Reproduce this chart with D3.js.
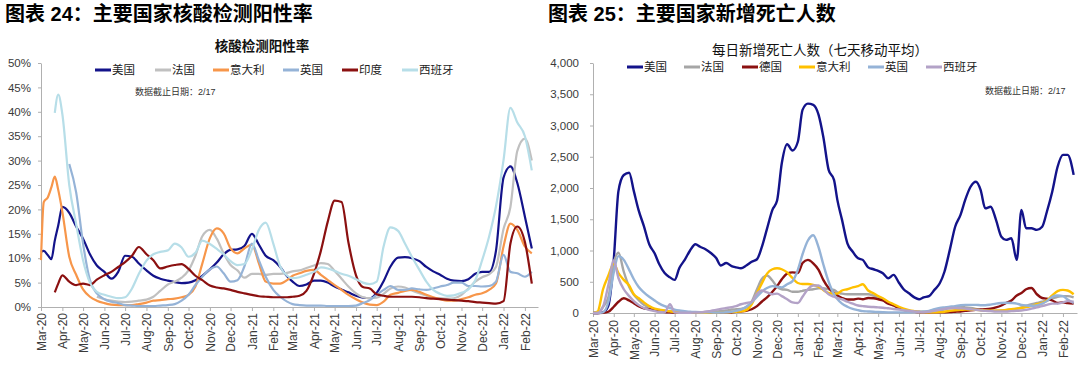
<!DOCTYPE html>
<html><head><meta charset="utf-8">
<script src="https://cdn.jsdelivr.net/npm/d3@7"></script>
<style>
body{margin:0;background:#fff;}
svg{display:block;font-family:"Liberation Sans","Noto Sans CJK SC",sans-serif;}
</style></head><body>
<svg id="c" width="1080" height="368"></svg>
<script>
// ---------------- Left chart: test positivity (%) ----------------
const leftDates = ["2020-03-01","2020-03-05","2020-03-11","2020-03-16","2020-03-21","2020-03-26","2020-04-01","2020-04-11","2020-04-21",
"2020-05-01","2020-05-11","2020-05-21","2020-06-01","2020-06-11","2020-06-21","2020-07-01","2020-07-11","2020-07-21","2020-08-01","2020-08-11","2020-08-21","2020-09-01","2020-09-11","2020-09-21","2020-10-01","2020-10-11","2020-10-21","2020-11-01","2020-11-11","2020-11-21","2020-12-01","2020-12-11","2020-12-21",
"2021-01-01","2021-01-11","2021-01-21","2021-02-01","2021-02-11","2021-02-21","2021-03-01","2021-03-11","2021-03-21","2021-04-01","2021-04-11","2021-04-21","2021-05-01","2021-05-11","2021-05-21","2021-06-01","2021-06-11","2021-06-21","2021-07-01","2021-07-11","2021-07-21","2021-08-01","2021-08-11","2021-08-21","2021-09-01","2021-09-11","2021-09-21","2021-10-01","2021-10-11","2021-10-21","2021-11-01","2021-11-11","2021-11-21","2021-12-01","2021-12-11","2021-12-21",
"2022-01-01","2022-01-11","2022-01-21","2022-02-01","2022-02-11"];
const leftNames = ["美国","法国","意大利","英国","印度","西班牙"];
const posUS = [11.3,11.5,10.6,9.8,13.6,16.7,20.5,19.3,16.5, 14.0,10.8,8.5, 7.2,5.8,7.2, 10.5,10.3,8.9, 7.5,6.4,5.8, 5.4,5.1,4.9, 5.0,5.5,6.4, 7.7,9.1,10.8, 11.7,11.8,12.5, 15.0,12.8,10.5, 9.6,8.2,6.3, 5.2,4.3,4.6, 5.4,5.4,5.0, 4.2,3.6,3.0, 2.3,1.9,1.8, 2.9,5.3,8.3, 10.1,10.2,10.0, 9.4,8.2,7.3, 6.6,5.8,5.4, 5.3,5.7,6.8, 7.2,7.2,11.5, 26.5,28.8,25.4, 18.5,12.0];
const posFR = [null,null,null,null,null,null,null,null,null, null,null,2.1, 1.6,1.3,1.1, 1.0,1.1,1.3, 1.5,2.1,3.3, 4.6,5.2,6.0, 7.5,10.5,14.5, 15.8,14.0,11.0, 8.6,7.5,6.0, 6.8,6.8,6.6, 6.8,6.8,7.0, 7.3,7.5,8.0, 8.5,9.0,8.8, 7.4,5.8,4.2, 2.8,2.0,1.8, 1.9,2.7,3.8, 4.2,4.0,3.4, 2.8,2.3,1.9, 1.8,1.7,1.8, 2.5,3.8,5.2, 6.1,6.7,8.2, 16.0,20.5,32.0, 34.5,30.0];
const posIT = [9.6,21.5,22.5,24.5,26.7,24.0,19.5,10.3,6.6, 3.6,2.1,1.3, 0.8,0.5,0.4, 0.4,0.4,0.6, 0.9,1.3,1.4, 1.6,1.7,2.0, 2.5,4.2,8.9, 14.1,16.1,15.1, 12.0,11.0,12.0, 12.8,9.0,5.2, 4.8,4.8,5.5, 6.4,6.9,7.4, 7.6,6.6,5.5, 4.5,3.5,2.5, 1.6,0.9,0.5, 0.4,1.1,2.5, 2.9,3.3,3.5, 3.1,2.5,2.0, 1.6,1.3,1.3, 1.6,2.0,2.5, 2.8,3.5,4.8, 12.4,17.1,15.8, 12.4,11.0];
const posUK = [null,null,null,null,null,null,null,29.3,23.5, 13.0,5.5,2.8, 1.6,1.1,0.8, 0.4,0.3,0.2, 0.2,0.2,0.3, 0.4,0.6,1.3, 2.5,4.5,6.2, 7.7,8.3,6.9, 5.2,5.5,8.3, 13.0,9.6,6.2, 3.5,2.1,1.1, 0.6,0.4,0.3, 0.3,0.3,0.2, 0.2,0.2,0.2, 0.3,0.8,1.4, 2.5,3.5,4.3, 3.5,3.5,3.8, 3.6,3.5,3.8, 4.2,4.5,5.0, 5.0,4.3,4.3, 4.2,4.3,5.2, 10.7,7.2,6.9, 6.2,7.2];
const posIN = [null,null,null,null,3.0,4.8,6.5,5.2,4.5, 4.8,4.5,5.6, 6.5,7.2,8.2, 9.2,10.5,12.3, 10.8,9.6,7.9, 8.3,8.6,8.8, 7.8,6.4,5.5, 4.4,4.0,3.8, 3.5,3.1,2.8, 2.5,2.2,2.1, 2.0,2.0,2.0, 2.1,2.3,3.3, 6.8,11.5,17.5, 21.8,21.5,13.2, 6.5,4.1,3.8, 2.6,2.3,2.1, 2.1,2.1,2.1, 2.0,1.8,1.7, 1.6,1.5,1.4, 1.3,1.2,1.0, 0.9,0.8,0.7, 1.2,13.0,16.5, 13.3,4.8];
const posES = [null,null,null,null,39.8,43.5,39.5,25.0,17.0, 9.6,5.0,3.1, 2.5,2.1,1.8, 2.0,3.8,6.8, 9.5,10.8,11.3, 11.6,13.0,12.2, 10.3,11.1,13.6, 12.9,11.9,10.8, 9.4,8.6,8.8, 11.8,15.8,17.3, 13.0,8.3,6.4, 5.9,6.1,6.6, 7.2,8.1,7.9, 7.4,6.8,6.4, 5.7,5.0,4.7, 5.2,12.4,16.3, 15.6,13.0,10.3, 7.6,5.2,3.5, 2.7,2.3,2.4, 2.9,3.6,5.5, 9.6,14.4,20.6, 30.1,40.8,37.8, 35.0,28.0];
const leftYTicks = [0,5,10,15,20,25,30,35,40,45,50];

// ---------------- Right chart: daily deaths (7-day avg) ----------------
const rightDates = ["2020-03-01","2020-03-08","2020-03-16","2020-03-24","2020-04-01","2020-04-08","2020-04-16","2020-04-24","2020-05-01","2020-05-08","2020-05-16","2020-05-24","2020-06-01","2020-06-08","2020-06-16","2020-06-24","2020-07-01","2020-07-08","2020-07-16","2020-07-24","2020-08-01","2020-08-08","2020-08-16","2020-08-24","2020-09-01","2020-09-08","2020-09-16","2020-09-24","2020-10-01","2020-10-08","2020-10-16","2020-10-24","2020-11-01","2020-11-08","2020-11-16","2020-11-24","2020-12-01","2020-12-08","2020-12-16","2020-12-24",
"2021-01-01","2021-01-08","2021-01-16","2021-01-24","2021-02-01","2021-02-08","2021-02-16","2021-02-24","2021-03-01","2021-03-08","2021-03-16","2021-03-24","2021-04-01","2021-04-08","2021-04-16","2021-04-24","2021-05-01","2021-05-08","2021-05-16","2021-05-24","2021-06-01","2021-06-08","2021-06-16","2021-06-24","2021-07-01","2021-07-08","2021-07-16","2021-07-24","2021-08-01","2021-08-08","2021-08-16","2021-08-24","2021-09-01","2021-09-08","2021-09-16","2021-09-24","2021-10-01","2021-10-08","2021-10-16","2021-10-24","2021-11-01","2021-11-08","2021-11-16","2021-11-24","2021-12-01","2021-12-08","2021-12-16","2021-12-24",
"2022-01-01","2022-01-08","2022-01-16","2022-01-24","2022-02-01","2022-02-08","2022-02-17"];
const rightNames = ["美国","法国","德国","意大利","英国","西班牙"];
const deathUS = [0,0,10,120, 850,1950,2208,2245, 1950,1650,1390,1100, 955,780,640,570, 530,720,850,1000, 1100,1060,1020,960, 880,760,800,750, 730,715,760,820, 860,1050,1350,1650, 1800,2395,2700,2600, 2740,3250,3350,3330, 3170,2820,2290,2130, 1810,1490,1115,980, 875,850,730,700, 675,635,555,610, 485,380,315,250, 220,250,270,370, 475,660,1010,1380, 1570,1810,2020,2100, 1970,1675,1700,1490, 1220,1170,1195,850, 1650,1355,1355,1330, 1380,1620,1940,2340, 2530,2530,2210];
const deathFR = [0,0,100,250, 795,965,660,420, 290,210,130,90, 60,50,35,30, 20,15,15,12, 12,12,15,18, 22,30,40,55, 60,65,90,180, 380,540,600,520, 420,380,370,340, 340,355,370,380, 395,395,380,370, 330,310,300,300, 300,300,300,280, 250,210,160,120, 80,50,30,20, 15,15,15,25, 40,60,80,90, 95,90,80,65, 50,40,35,35, 40,45,55,70, 90,115,140,160, 180,200,230,260, 270,270,250];
const deathDE = [0,0,2,20, 100,180,235,200, 155,110,75,60, 40,25,15,10, 8,6,5,5, 5,5,5,5, 5,5,6,8, 20,25,35,60, 110,180,250,340, 430,540,630,650, 640,800,850,795, 690,530,400,320, 280,240,215,215, 230,220,240,235, 220,200,150,120, 80,50,35,20, 15,10,10,10, 10,12,15,20, 25,35,45,50, 55,60,70,90, 120,160,200,280, 320,380,400,300, 240,230,200,160, 170,160,150];
const deathIT = [0,25,380,600, 790,640,530,440, 300,240,170,110, 70,55,40,25, 15,12,10,8, 6,5,5,6, 8,10,12,15, 20,25,45,140, 320,470,630,700, 715,700,650,560, 480,465,465,450, 420,370,320,310, 310,360,380,410, 430,460,360,315, 270,235,180,140, 100,70,45,30, 20,15,12,12, 15,20,35,45, 50,55,55,50, 45,40,38,38, 40,50,60,70, 80,95,110,140, 160,200,280,350, 370,360,300];
const deathUK = [0,0,10,180, 650,910,850,690, 540,420,330,260, 200,150,110,80, 55,40,30,20, 15,12,10,10, 8,8,12,20, 35,55,100,170, 260,340,400,430, 420,410,460,510, 690,940,1160,1245, 1050,780,500,300, 225,150,100,65, 45,30,25,20, 15,12,10,10, 10,10,12,15, 20,25,35,60, 80,90,100,110, 125,130,130,130, 125,125,135,150, 160,165,160,150, 130,120,115,120, 150,190,260,280, 270,215,160];
const deathES = [0,2,100,450, 840,560,380,270, 190,130,80,50, 30,15,10,140, 10,5,5,5, 8,10,20,35, 50,65,80,95, 110,140,160,180, 310,360,330,300, 310,270,220,170, 160,260,380,440, 440,380,300,260, 240,220,180,150, 120,110,100,95, 90,85,75,65, 55,45,35,25, 15,12,20,35, 50,65,75,80, 75,70,60,50, 40,35,30,25, 25,25,30,35, 40,50,70,90, 110,130,150,150, 170,190,180];
const rightYTicks = [0,500,1000,1500,2000,2500,3000,3500,4000];

const leftColors = ["#13138a","#c0c0c0","#f7964a","#95b3d7","#8b1010","#b7dee8"];
const rightColors = ["#13138a","#a6a6a6","#8b1010","#ffc000","#95b3d7","#b3a2c7"];

// ---------------- drawing ----------------
const svg = d3.select("#c");
const parse = d3.timeParse("%Y-%m-%d");
const TXT = "#3a3a3a";

function drawPanel(o){
  const g = svg.append("g");
  const dates = o.dates.map(parse);
  const x = d3.scaleTime().domain(o.xDomain.map(parse)).range(o.xRange);
  const y = d3.scaleLinear().domain(o.yDomain).range(o.yRange);
  // title
  g.append("text").attr("x",o.titleX).attr("y",21).text(o.title)
    .style("font-size","20px").style("font-weight","bold").attr("fill","#000");
  g.append("text").attr("x",o.subX).attr("y",o.subY).attr("text-anchor","middle").text(o.sub)
    .style("font-size","13.5px").style("font-weight",o.subBold?"bold":"normal").attr("fill","#111");
  // axes
  const ya = g.append("g").attr("transform",`translate(${o.xRange[0]},0)`)
    .call(d3.axisLeft(y).tickValues(o.yTicks).tickFormat(o.yFmt).tickSize(3).tickSizeOuter(0).tickPadding(o.yPad));
  ya.select(".domain").attr("stroke","#b0b0b0");
  ya.selectAll(".tick line").attr("stroke","#b0b0b0");
  ya.selectAll("text").style("font-size","11.5px").attr("fill",TXT);
  const xa = g.append("g").attr("transform",`translate(0,${o.yRange[0]})`)
    .call(d3.axisBottom(x).ticks(d3.timeMonth.every(1)).tickFormat(d3.timeFormat("%b-%y")).tickSize(4).tickSizeOuter(0));
  xa.select(".domain").attr("stroke","#b0b0b0");
  xa.selectAll(".tick line").attr("stroke","#b0b0b0");
  xa.selectAll("text").attr("transform","rotate(-90)").attr("text-anchor","end")
    .attr("x",-o.xLabGap).attr("y",0).attr("dy","0.35em").style("font-size","12px").attr("fill",TXT);
  // lines
  o.series.forEach((vals,i)=>{
    const pts = dates.map((d,k)=>({d, v:vals[k]}));
    const line = d3.line().defined(p=>p.v!=null).x(p=>x(p.d)).y(p=>y(p.v)).curve(d3.curveMonotoneX);
    g.append("path").datum(pts).attr("d",line).attr("fill","none")
      .attr("stroke",o.colors[i]).attr("stroke-width",o.lw).attr("stroke-linejoin","round");
  });
  // legend
  o.names.forEach((n,i)=>{
    const lx = o.legX[i];
    g.append("line").attr("x1",lx).attr("x2",lx+16).attr("y1",o.legY).attr("y2",o.legY)
      .attr("stroke",o.colors[i]).attr("stroke-width",3);
    g.append("text").attr("x",lx+17).attr("y",o.legY).attr("dy","0.36em").text(n)
      .style("font-size","11.5px").attr("fill","#222");
  });
  g.append("text").attr("x",o.noteX).attr("y",o.noteY).text("数据截止日期：2/17")
    .style("font-size","9px").attr("fill","#333");
}

drawPanel({
  title:"图表 24：主要国家核酸检测阳性率", titleX:5,
  sub:"核酸检测阳性率", subX:262, subY:51, subBold:true,
  dates:leftDates, xDomain:["2020-03-01","2022-02-20"], xRange:[41,538],
  yDomain:[0,50], yRange:[307,63], yTicks:leftYTicks, yFmt:d=>d+"%", yPad:7, xLabGap:6,
  series:[posUS,posFR,posIT,posUK,posIN,posES], names:leftNames, colors:leftColors, lw:2.2,
  legX:[95,155,213,283,342,402], legY:70, noteX:135, noteY:95
});
drawPanel({
  title:"图表 25：主要国家新增死亡人数", titleX:548,
  sub:"每日新增死亡人数（七天移动平均）", subX:820, subY:55, subBold:false,
  dates:rightDates, xDomain:["2020-03-01","2022-02-22"], xRange:[593,1077],
  yDomain:[0,4000], yRange:[313,63], yTicks:rightYTicks, yFmt:d3.format(","), yPad:11, xLabGap:7,
  series:[deathUS,deathFR,deathDE,deathIT,deathUK,deathES], names:rightNames, colors:rightColors, lw:2.4,
  legX:[627,684,742,799,868,926], legY:67, noteX:985, noteY:94
});
</script>
</body></html>
